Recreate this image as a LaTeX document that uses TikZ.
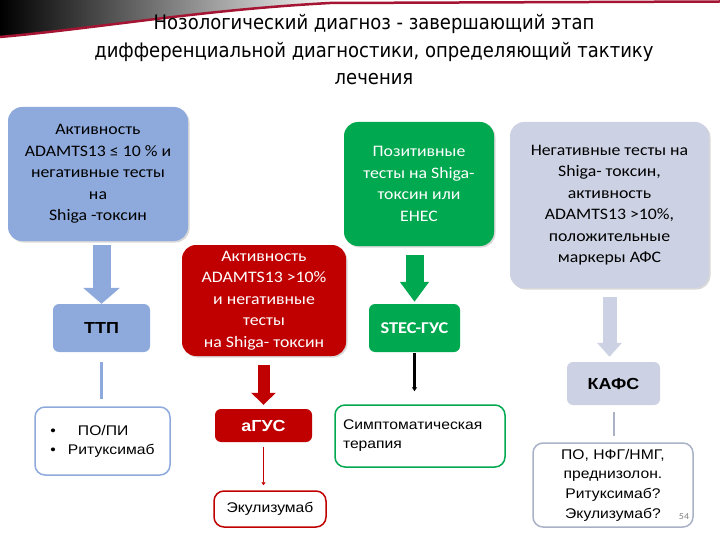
\documentclass[tikz,border=0pt]{standalone}
\usepackage{fontspec}
\setmainfont[FakeStretch = 1.11]{Carlito}
\newfontfamily\arialfont[FakeStretch = 1.12]{Liberation Sans}
\newfontfamily\titlefont{DejaVu Sans Condensed}
\usetikzlibrary{arrows.meta}
\usetikzlibrary{shadows}
\definecolor{ttpblue}{RGB}{142,170,220}
\definecolor{agusred}{RGB}{192,0,0}
\definecolor{stecgreen}{RGB}{0,168,80}
\definecolor{kafsgray}{RGB}{204,210,228}
\definecolor{kafsline}{RGB}{170,178,200}
\definecolor{swoopred}{RGB}{165,20,50}
\tikzset{bigbox/.style = {rounded corners = 14pt, inner sep = 0, align = center,
    font = \fontsize{16}{21.5}\selectfont,
    drop shadow = {shadow xshift = 1.5pt, shadow yshift = -1.5pt, opacity = 0.3}}}
\tikzset{smallbox/.style = {rounded corners = 6pt, inner sep = 0, align = center,
    font = \arialfont\bfseries\fontsize{16}{19}\selectfont}}
\tikzset{txbox/.style = {rounded corners = 10pt, inner sep = 0, fill = white, line width = 1.5pt,
    font = \arialfont\fontsize{14}{19}\selectfont}}
\tikzset{boxwh/.style 2 args = {minimum width = #1pt, minimum height = #2pt}}
\tikzset{fatarrow/.style n args = {3}{line width = #1pt, -{Triangle[width = #2pt, length = #3pt]}}}

\begin{document}
\begin{tikzpicture}[x=1pt, y=-1pt]
      \useasboundingbox (0, 0) rectangle (720, 540);

      % top swoosh
      \shade [left color = black, right color = gray!8]
        (0, 0) -- (330, 0) -- (330, 3) .. controls (200, 10) and (100, 28) .. (0, 37) -- cycle;
      \draw [swoopred, line width = 2.5pt]
        (0, 37) .. controls (100, 28) and (200, 10) .. (330, 3) -- (720, 1.5);

      \node [align = center, font = \titlefont\fontsize{20}{27.5}\selectfont] (title) at (374, 50)
        {Нозологический диагноз  - завершающий этап\\
         дифференциальной диагностики, определяющий тактику\\
         лечения};

      % TTP branch
      \node [bigbox, fill = ttpblue, boxwh = {180}{134}] (actA) at (98, 174)
        {Активность\\ADAMTS13 ≤ 10 \% и\\негативные тесты\\на\\Shiga -токсин};
      \node [smallbox, fill = ttpblue, boxwh = {97}{48}] (ttp) at (101.5, 328) {ТТП};
      \node [txbox, draw = ttpblue, boxwh = {135}{68}, align = left] (ttpTx) at (102.5, 441)
        {\textbullet\hspace{22pt}ПО/ПИ\\\textbullet\hspace{12pt}Ритуксимаб};

      % aHUS branch
      \node [bigbox, fill = agusred, text = white, boxwh = {164}{111}] (actR) at (264, 300.5)
        {Активность\\ADAMTS13 >10\%\\и негативные\\тесты\\на Shiga- токсин};
      \node [smallbox, fill = agusred, text = white, boxwh = {97}{33}] (agus) at (263.5, 425.5) {аГУС};
      \node [txbox, draw = agusred, boxwh = {112}{36}] (ekul) at (270, 509) {Экулизумаб};

      % STEC branch
      \node [bigbox, fill = stecgreen, text = white, boxwh = {150}{124}] (pos) at (419, 184)
        {Позитивные\\тесты на Shiga-\\токсин  или\\EHEC};
      \node [smallbox, fill = stecgreen, text = white, boxwh = {91}{48},
        font = \bfseries\fontsize{16.5}{18}\selectfont] (stec) at (414.5, 328) {STEC-ГУС};
      \node [txbox, draw = stecgreen, boxwh = {170}{62}, text width = 154pt, align = left] (symp)
        at (420, 436) {Симптоматическая\\терапия};

      % CAPS branch
      \node [bigbox, fill = kafsgray, boxwh = {199}{166}] (neg) at (609.5, 205)
        {Негативные тесты на\\Shiga- токсин,\\активность\\ADAMTS13 >10\%,\\положительные\\маркеры АФС};
      \node [smallbox, fill = kafsgray, boxwh = {93}{43}] (kafs) at (613.5, 383.5) {КАФС};
      \node [txbox, draw = kafsline, boxwh = {160}{84}, align = center,
        font = \arialfont\fontsize{14}{19.7}\selectfont] (kafsTx) at (613, 485)
        {ПО, НФГ/НМГ,\\преднизолон.\\Ритуксимаб?\\Экулизумаб?};
      \node [font = \fontsize{9}{10}\selectfont, text = gray] (pgnum) at (684, 517) {54};

      \draw [fatarrow = {18}{36}{16}, ttpblue, shorten <= 4pt] (actA.south -| ttp.north) -- (ttp.north);
      \draw [ttpblue, line width = 2.5pt, shorten <= 10pt, shorten >= 7pt] (ttp.south) -- (ttp.south |- ttpTx.north);

      \draw [fatarrow = {12}{24}{12}, agusred, shorten <= 9pt, shorten >= 4pt] (actR.south -| agus.north) -- (agus.north);
      \draw [agusred, line width = 1.5pt, -{Triangle[width = 4pt, length = 3pt]}, shorten <= 5pt, shorten >= 5pt]
        (agus.south) -- (agus.south |- ekul.north);

      \draw [fatarrow = {18}{28}{20}, stecgreen, shorten <= 9pt, shorten >= 2pt] (pos.south -| stec.north) -- (stec.north);
      \draw [black, line width = 2.5pt, -{Triangle[width = 5pt, length = 4pt]}, shorten <= 1pt, shorten >= 13pt]
        (stec.south) -- (stec.south |- symp.north);

      \draw [fatarrow = {14}{24}{14}, kafsgray, shorten <= 9pt, shorten >= 5pt] (neg.south) -- (neg.south |- kafs.north);
      \draw [kafsline, line width = 2pt, shorten <= 7pt, shorten >= 6pt] (kafs.south) -- (kafs.south |- kafsTx.north);
    \end{tikzpicture}
\end{document}
